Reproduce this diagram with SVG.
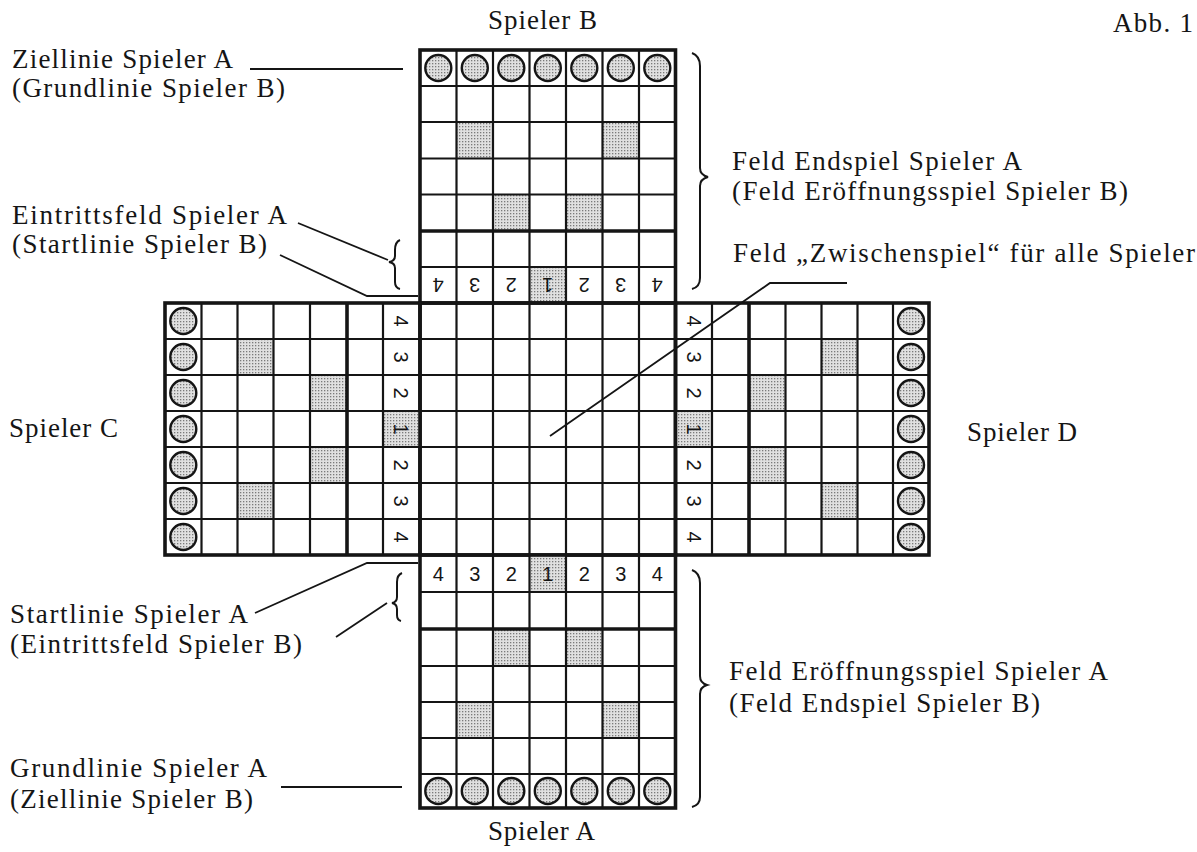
<svg xmlns="http://www.w3.org/2000/svg" width="1197" height="852" viewBox="0 0 1197 852">
<defs>
<pattern id="dots" width="3" height="3" patternUnits="userSpaceOnUse">
<rect width="3" height="3" fill="#e0e0e0"/>
<rect width="1.3" height="1.3" fill="#7a7a7a"/>
</pattern>
</defs>
<style>
.g{stroke:#151515;stroke-width:2.2;fill:none}
.t{stroke:#151515;stroke-width:3.6;fill:none}
.s{fill:url(#dots);stroke:none}
.p{fill:url(#dots);stroke:#151515;stroke-width:2.4}
.n{font-family:"Liberation Sans",Arial,sans-serif;font-size:20px;fill:#151515;text-anchor:middle}
.l{font-family:"Liberation Serif","Times New Roman",serif;font-size:27px;fill:#151515}
.ld{stroke:#151515;stroke-width:1.8;fill:none}
.br{stroke:#151515;stroke-width:2;fill:none}
</style>
<rect width="1197" height="852" fill="#ffffff"/>

<g id="arm-top">
<rect class="s" x="456.5" y="122" width="36.5" height="36.5"/>
<rect class="s" x="602.5" y="122" width="36.5" height="36.5"/>
<rect class="s" x="493" y="194.5" width="36.5" height="36.5"/>
<rect class="s" x="566" y="194.5" width="36.5" height="36.5"/>
<rect class="s" x="529.5" y="267" width="36.5" height="36"/>
<path class="g" d="M456.5 50V303M493 50V303M529.5 50V303M566 50V303M602.5 50V303M639 50V303M420 86H675.5M420 122H675.5M420 158.5H675.5M420 194.5H675.5M420 267H675.5"/>
<path class="t" d="M420 231H675.5"/>
<rect class="t" x="420" y="50" width="255.5" height="253"/>
<circle class="p" cx="438.3" cy="68" r="13"/>
<circle class="p" cx="474.8" cy="68" r="13"/>
<circle class="p" cx="511.3" cy="68" r="13"/>
<circle class="p" cx="547.8" cy="68" r="13"/>
<circle class="p" cx="584.3" cy="68" r="13"/>
<circle class="p" cx="620.8" cy="68" r="13"/>
<circle class="p" cx="657.3" cy="68" r="13"/>
<text class="n" y="7.2" transform="translate(438.3 285) rotate(180)">4</text>
<text class="n" y="7.2" transform="translate(474.8 285) rotate(180)">3</text>
<text class="n" y="7.2" transform="translate(511.3 285) rotate(180)">2</text>
<text class="n" y="7.2" transform="translate(547.8 285) rotate(180)">1</text>
<text class="n" y="7.2" transform="translate(584.3 285) rotate(180)">2</text>
<text class="n" y="7.2" transform="translate(620.8 285) rotate(180)">3</text>
<text class="n" y="7.2" transform="translate(657.3 285) rotate(180)">4</text>
</g>

<g id="center">
<path class="g" d="M456.5 303V555M493 303V555M529.5 303V555M566 303V555M602.5 303V555M639 303V555M420 339H675.5M420 375H675.5M420 411H675.5M420 447H675.5M420 483H675.5M420 519H675.5"/>
<rect class="t" x="420" y="303" width="255.5" height="252"/>
</g>

<g id="arm-left">
<rect class="s" x="237.5" y="339" width="36" height="36"/>
<rect class="s" x="237.5" y="483" width="36" height="36"/>
<rect class="s" x="310" y="375" width="37" height="36"/>
<rect class="s" x="310" y="447" width="37" height="36"/>
<rect class="s" x="383" y="411" width="37" height="36"/>
<path class="g" d="M201.5 303V555M237.5 303V555M273.5 303V555M310 303V555M383 303V555M165 339H420M165 375H420M165 411H420M165 447H420M165 483H420M165 519H420"/>
<path class="t" d="M347 303V555"/>
<rect class="t" x="165" y="303" width="255" height="252"/>
<circle class="p" cx="183.3" cy="321" r="13"/>
<circle class="p" cx="183.3" cy="357" r="13"/>
<circle class="p" cx="183.3" cy="393" r="13"/>
<circle class="p" cx="183.3" cy="429" r="13"/>
<circle class="p" cx="183.3" cy="465" r="13"/>
<circle class="p" cx="183.3" cy="501" r="13"/>
<circle class="p" cx="183.3" cy="537" r="13"/>
<text class="n" y="7.2" transform="translate(401.5 321) rotate(90)">4</text>
<text class="n" y="7.2" transform="translate(401.5 357) rotate(90)">3</text>
<text class="n" y="7.2" transform="translate(401.5 393) rotate(90)">2</text>
<text class="n" y="7.2" transform="translate(401.5 429) rotate(90)">1</text>
<text class="n" y="7.2" transform="translate(401.5 465) rotate(90)">2</text>
<text class="n" y="7.2" transform="translate(401.5 501) rotate(90)">3</text>
<text class="n" y="7.2" transform="translate(401.5 537) rotate(90)">4</text>
</g>

<g id="arm-right">
<rect class="s" x="675.5" y="411" width="36.5" height="36"/>
<rect class="s" x="749" y="375" width="36.5" height="36"/>
<rect class="s" x="749" y="447" width="36.5" height="36"/>
<rect class="s" x="821.5" y="339" width="36" height="36"/>
<rect class="s" x="821.5" y="483" width="36" height="36"/>
<path class="g" d="M712 303V555M785.5 303V555M821.5 303V555M857.5 303V555M893 303V555M675.5 339H929M675.5 375H929M675.5 411H929M675.5 447H929M675.5 483H929M675.5 519H929"/>
<path class="t" d="M749 303V555"/>
<rect class="t" x="675.5" y="303" width="253.5" height="252"/>
<circle class="p" cx="911" cy="321" r="13"/>
<circle class="p" cx="911" cy="357" r="13"/>
<circle class="p" cx="911" cy="393" r="13"/>
<circle class="p" cx="911" cy="429" r="13"/>
<circle class="p" cx="911" cy="465" r="13"/>
<circle class="p" cx="911" cy="501" r="13"/>
<circle class="p" cx="911" cy="537" r="13"/>
<text class="n" y="7.2" transform="translate(693.8 321) rotate(90)">4</text>
<text class="n" y="7.2" transform="translate(693.8 357) rotate(90)">3</text>
<text class="n" y="7.2" transform="translate(693.8 393) rotate(90)">2</text>
<text class="n" y="7.2" transform="translate(693.8 429) rotate(90)">1</text>
<text class="n" y="7.2" transform="translate(693.8 465) rotate(90)">2</text>
<text class="n" y="7.2" transform="translate(693.8 501) rotate(90)">3</text>
<text class="n" y="7.2" transform="translate(693.8 537) rotate(90)">4</text>
</g>

<g id="arm-bottom">
<rect class="s" x="529.5" y="555" width="36.5" height="37"/>
<rect class="s" x="493" y="629" width="36.5" height="37"/>
<rect class="s" x="566" y="629" width="36.5" height="37"/>
<rect class="s" x="456.5" y="702" width="36.5" height="36"/>
<rect class="s" x="602.5" y="702" width="36.5" height="36"/>
<path class="g" d="M456.5 555V808M493 555V808M529.5 555V808M566 555V808M602.5 555V808M639 555V808M420 592H675.5M420 666H675.5M420 702H675.5M420 738H675.5M420 774H675.5"/>
<path class="t" d="M420 629H675.5"/>
<rect class="t" x="420" y="555" width="255.5" height="253"/>
<circle class="p" cx="438.3" cy="791" r="13"/>
<circle class="p" cx="474.8" cy="791" r="13"/>
<circle class="p" cx="511.3" cy="791" r="13"/>
<circle class="p" cx="547.8" cy="791" r="13"/>
<circle class="p" cx="584.3" cy="791" r="13"/>
<circle class="p" cx="620.8" cy="791" r="13"/>
<circle class="p" cx="657.3" cy="791" r="13"/>
<text class="n" x="438.3" y="580.7">4</text>
<text class="n" x="474.8" y="580.7">3</text>
<text class="n" x="511.3" y="580.7">2</text>
<text class="n" x="547.8" y="580.7">1</text>
<text class="n" x="584.3" y="580.7">2</text>
<text class="n" x="620.8" y="580.7">3</text>
<text class="n" x="657.3" y="580.7">4</text>
</g>

<g id="connectors">
<path class="ld" d="M250 69H403"/>
<path class="ld" d="M298 223L388 260"/>
<path class="ld" d="M280 255L367 296H418"/>
<path class="ld" d="M255 613L367 563H418"/>
<path class="ld" d="M336 637L387 603"/>
<path class="ld" d="M281 787H402"/>
<path class="ld" d="M847 283H770L550 436"/>
<path class="br" d="M400 240Q395 242 395 250V256Q395 261 389 262Q395 263 395 268V282Q395 288 400 289"/>
<path class="br" d="M402 573Q397 575 397 582V597Q397 602 392 603Q397 604 397 609V615Q397 620 401 621"/>
<path class="br" d="M692 53Q700 56 700 66V168Q700 175 708 177Q700 179 700 186V278Q700 287 692 289"/>
<path class="br" d="M692 570Q700 573 700 583V676Q700 683 707 685Q700 687 700 694V797Q700 805 692 807"/>
</g>

<g id="labels">
<text class="l" x="488" y="29" textLength="109" lengthAdjust="spacing">Spieler B</text>
<text class="l" x="1113" y="32" textLength="80" lengthAdjust="spacing">Abb. 1</text>
<text class="l" x="12" y="68" textLength="221" lengthAdjust="spacing">Ziellinie Spieler A</text>
<text class="l" x="12" y="97" textLength="273" lengthAdjust="spacing">(Grundlinie Spieler B)</text>
<text class="l" x="12" y="224" textLength="275" lengthAdjust="spacing">Eintrittsfeld Spieler A</text>
<text class="l" x="12" y="253" textLength="255" lengthAdjust="spacing">(Startlinie Spieler B)</text>
<text class="l" x="9" y="437" textLength="109" lengthAdjust="spacing">Spieler C</text>
<text class="l" x="10" y="623" textLength="238" lengthAdjust="spacing">Startlinie Spieler A</text>
<text class="l" x="10" y="653" textLength="292" lengthAdjust="spacing">(Eintrittsfeld Spieler B)</text>
<text class="l" x="10" y="777" textLength="257" lengthAdjust="spacing">Grundlinie Spieler A</text>
<text class="l" x="10" y="808" textLength="243" lengthAdjust="spacing">(Ziellinie Spieler B)</text>
<text class="l" x="488" y="840" textLength="107" lengthAdjust="spacing">Spieler A</text>
<text class="l" x="732" y="170" textLength="290" lengthAdjust="spacing">Feld Endspiel Spieler A</text>
<text class="l" x="732" y="200" textLength="396" lengthAdjust="spacing">(Feld Eröffnungsspiel Spieler B)</text>
<text class="l" x="733" y="262" textLength="462" lengthAdjust="spacing">Feld „Zwischenspiel“ für alle Spieler</text>
<text class="l" x="967" y="441" textLength="110" lengthAdjust="spacing">Spieler D</text>
<text class="l" x="729" y="680" textLength="379" lengthAdjust="spacing">Feld Eröffnungsspiel Spieler A</text>
<text class="l" x="729" y="712" textLength="311" lengthAdjust="spacing">(Feld Endspiel Spieler B)</text>
</g>
</svg>
